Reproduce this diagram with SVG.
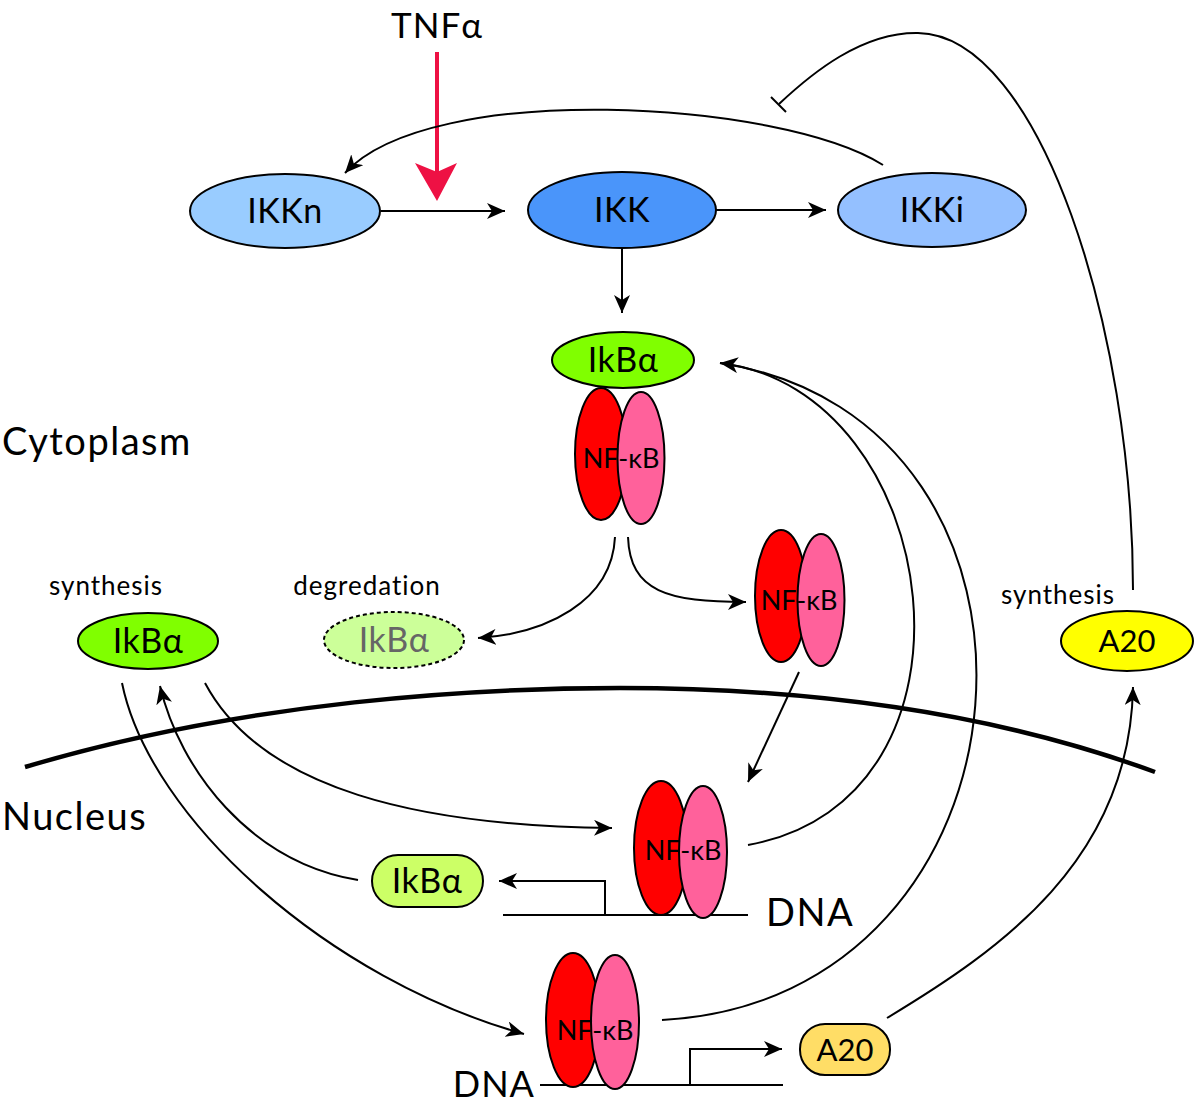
<svg xmlns="http://www.w3.org/2000/svg" width="1200" height="1108" viewBox="0 0 1200 1108">
<style>
text{font-family:Lato,"Open Sans","Liberation Sans",sans-serif;fill:#000}
.lbl{font-size:38px;letter-spacing:1.5px}
.node{font-size:34px;text-anchor:middle;letter-spacing:0.5px}
.a20{font-size:31px;text-anchor:middle}
.nf{font-size:27px;text-anchor:middle}
.small{font-size:26px;text-anchor:middle;letter-spacing:1px}
.edge{fill:none;stroke:#000;stroke-width:2}
.ol{stroke:#000;stroke-width:2}
.red{fill:#ff0000}
.pink{fill:#ff619b}
</style>
<defs>
<marker id="ah" markerUnits="userSpaceOnUse" markerWidth="20" markerHeight="16" refX="18" refY="8" orient="auto">
<path d="M0,0 L18,8 L0,16 L5,8 z" fill="#000"/>
</marker>
</defs>
<rect width="1200" height="1108" fill="#fff"/>

<g id="labels">
<text x="437" y="38" text-anchor="middle" style="font-size:35px;letter-spacing:1px">TNFα</text>
<text class="lbl" x="2" y="455">Cytoplasm</text>
<text class="lbl" x="2" y="830">Nucleus</text>
<text class="small" x="106" y="595">synthesis</text>
<text class="small" x="367" y="595">degredation</text>
<text class="small" x="1058" y="604">synthesis</text>
<text class="lbl" x="766" y="926">DNA</text>
<text x="535" y="1097" text-anchor="end" style="font-size:36px;letter-spacing:1px">DNA</text>
</g>

<g id="membrane">
<path d="M25,767 C250,700 480,688 620,688 C820,688 1000,715 1155,772" fill="none" stroke="#000" stroke-width="4.5"/>
</g>

<g id="dna">
<line x1="503" y1="915" x2="748" y2="915" class="ol"/>
<line x1="540" y1="1085" x2="783" y2="1085" class="ol"/>
</g>

<g id="connectors">
<line x1="437" y1="52" x2="437" y2="175" stroke="#ee1144" stroke-width="4"/>
<path d="M415,163 L437,172 L457,163 L437,201 z" fill="#ee1144"/>
<path class="edge" d="M381,211 L505,211" marker-end="url(#ah)"/>
<path class="edge" d="M716,210 L826,210" marker-end="url(#ah)"/>
<path class="edge" d="M883,165 C780,100 430,80 345,173" marker-end="url(#ah)"/>
<path class="edge" d="M622,248 L622,313" marker-end="url(#ah)"/>
<path class="edge" d="M1133,590 C1133,330 1040,35 918,33 C862,32 812,73 779,104"/>
<line x1="771" y1="97" x2="786" y2="112" class="ol"/>
<path class="edge" d="M628,537 C630,592 668,602 746,602" marker-end="url(#ah)"/>
<path class="edge" d="M615,537 C612,602 545,634 478,638" marker-end="url(#ah)"/>
<path class="edge" d="M799,672 L748,782" marker-end="url(#ah)"/>
<path class="edge" d="M748,845 C1000,800 945,390 720,363" marker-end="url(#ah)"/>
<path class="edge" d="M662,1020 C1050,1000 1090,420 720,363"/>
<path class="edge" d="M122,683 C150,820 330,980 524,1034" marker-end="url(#ah)"/>
<path class="edge" d="M358,880 C250,862 180,770 160,686" marker-end="url(#ah)"/>
<path class="edge" d="M205,683 C262,790 420,826 612,828" marker-end="url(#ah)"/>
<path class="edge" d="M605,915 L605,881 L499,881" marker-end="url(#ah)"/>
<path class="edge" d="M690,1085 L690,1049 L782,1049" marker-end="url(#ah)"/>
<path class="edge" d="M887,1018 C1000,950 1130,860 1133,687" marker-end="url(#ah)"/>
</g>

<g id="IKKn"><ellipse cx="285" cy="211" rx="95" ry="37" fill="#99ccff" class="ol"/><text class="node" x="285" y="223">IKKn</text></g>
<g id="IKK"><ellipse cx="622" cy="210" rx="94" ry="38" fill="#4a95fa" class="ol"/><text class="node" x="622" y="222">IKK</text></g>
<g id="IKKi"><ellipse cx="932" cy="210" rx="94" ry="37" fill="#94c0ff" class="ol"/><text class="node" x="932" y="222">IKKi</text></g>

<g id="IkBa-complex"><ellipse cx="623" cy="360" rx="71" ry="28" fill="#80ff00" class="ol"/><text class="node" x="623" y="372">IkBα</text></g>
<g id="NFkB-complex">
<ellipse cx="601" cy="454" rx="26" ry="66" class="red ol"/>
<ellipse cx="641" cy="458" rx="23.5" ry="66" class="pink ol"/>
<text class="nf" x="621" y="468">NF-κB</text>
</g>

<g id="NFkB-free">
<ellipse cx="781" cy="596" rx="26" ry="66" class="red ol"/>
<ellipse cx="821" cy="600" rx="23.5" ry="66" class="pink ol"/>
<text class="nf" x="799" y="610">NF-κB</text>
</g>

<g id="IkBa-synthesis"><ellipse cx="148" cy="641" rx="70" ry="28" fill="#80ff00" class="ol"/><text class="node" x="148" y="653">IkBα</text></g>
<g id="IkBa-degradation"><ellipse cx="394" cy="640" rx="70" ry="28" fill="#ccff99" stroke="#000" stroke-width="2" stroke-dasharray="4,3"/><text class="node" x="394" y="652" style="fill:#666">IkBα</text></g>
<g id="A20-cyto"><ellipse cx="1127" cy="641" rx="66" ry="30" fill="#ffff00" class="ol"/><text class="a20" x="1127" y="652">A20</text></g>

<g id="NFkB-nuc1">
<ellipse cx="661" cy="848" rx="27" ry="67" class="red ol"/>
<ellipse cx="703" cy="852" rx="24" ry="66" class="pink ol"/>
<text class="nf" x="683" y="860">NF-κB</text>
</g>
<g id="IkBa-nuc"><rect x="372" y="855" width="111" height="52" rx="26" fill="#ccff66" class="ol"/><text class="node" x="427" y="893">IkBα</text></g>

<g id="NFkB-nuc2">
<ellipse cx="573" cy="1020" rx="27" ry="67" class="red ol"/>
<ellipse cx="615" cy="1022" rx="24" ry="67" class="pink ol"/>
<text class="nf" x="595" y="1040">NF-κB</text>
</g>
<g id="A20-nuc"><rect x="800" y="1024" width="90" height="51" rx="25" fill="#ffdd66" class="ol"/><text class="a20" x="845" y="1061">A20</text></g>
</svg>
